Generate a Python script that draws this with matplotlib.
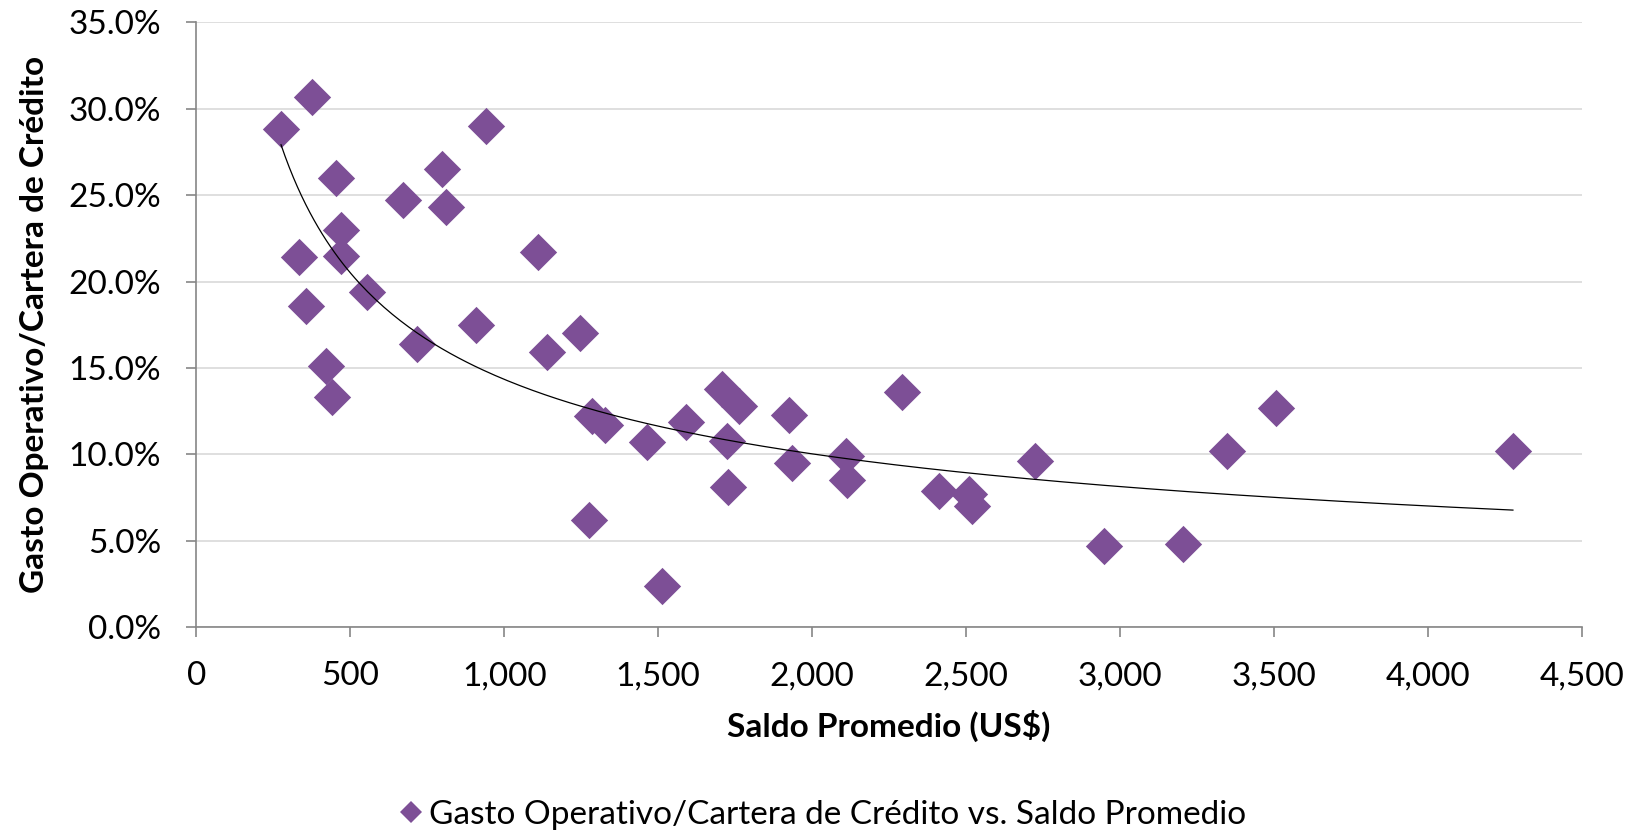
import numpy as np
import matplotlib
matplotlib.use("Agg")
import matplotlib.pyplot as plt
from matplotlib.ticker import FuncFormatter, MultipleLocator
from matplotlib.lines import Line2D

plt.rcParams['font.family'] = ['Lato', 'DejaVu Sans']

# Saldo promedio (US$) y gasto operativo / cartera (%)
saldo = [275, 374, 334, 357, 421, 439, 452, 470, 470, 554,
         671, 716, 797, 812, 908, 940, 1110, 1140, 1247, 1284,
         1277, 1328, 1464, 1512, 1590, 1709, 1764, 1723, 1726, 1924,
         1934, 2109, 2114, 2291, 2413, 2509, 2519, 2723, 2950, 3205,
         3348, 3507, 4277]
gasto = [28.8, 30.7, 21.4, 18.6, 15.1, 13.3, 26.0, 23.0, 21.5, 19.4,
         24.7, 16.4, 26.5, 24.3, 17.5, 29.0, 21.7, 15.9, 17.0, 12.2,
         6.2, 11.7, 10.7, 2.4, 11.9, 13.8, 12.8, 10.8, 8.1, 12.3,
         9.5, 9.9, 8.5, 13.6, 7.9, 7.7, 7.0, 9.6, 4.7, 4.8,
         10.2, 12.7, 10.2]

serie = "Gasto Operativo/Cartera de Crédito vs. Saldo Promedio"
purple = "#7D4F96"

x = np.array(saldo, dtype=float)
y = np.array(gasto, dtype=float) / 100

# power trendline (least squares in log space, like Excel)
b, ln_a = np.polyfit(np.log(x), np.log(y), 1)
xt = np.linspace(x.min(), x.max(), 300)
yt = np.exp(ln_a) * xt ** b

fig = plt.figure(figsize=(16.42, 8.33), dpi=100)
ax = fig.add_axes([0.1196, 0.2469, 0.8436, 0.7264])

ax.plot(xt, yt, color="black", lw=0.9, zorder=3)
ax.scatter(x, y, marker="D", s=19 ** 2, color=purple, linewidths=0, zorder=2)

ax.set_xlim(0, 4500)
ax.set_ylim(0, 0.35)
ax.xaxis.set_major_locator(MultipleLocator(500))
ax.yaxis.set_major_locator(MultipleLocator(0.05))
ax.xaxis.set_major_formatter(FuncFormatter(lambda v, p: f"{v:,.0f}"))
ax.yaxis.set_major_formatter(FuncFormatter(lambda v, p: f"{v * 100:.1f}%"))

ax.grid(axis="y", color="#D9D9D9", lw=1.2)
ax.set_axisbelow(True)
for s in ("top", "right"):
    ax.spines[s].set_visible(False)
for s in ("left", "bottom"):
    ax.spines[s].set_color("#868686")
    ax.spines[s].set_linewidth(1.2)
ax.tick_params(axis="both", direction="out", length=7.5, width=1.2,
               color="#868686", labelsize=24, labelcolor="black")
ax.tick_params(axis="x", pad=17)
ax.tick_params(axis="y", pad=18)

ax.set_xlabel("Saldo Promedio (US$)", fontsize=24, fontweight="bold", labelpad=13)
ax.set_ylabel("Gasto Operativo/Cartera de Crédito", fontsize=24, fontweight="bold", labelpad=14)

handle = Line2D([], [], marker="D", color=purple, ls="none", markersize=11.5, markeredgewidth=0)
fig.legend([handle], [serie], loc="center", bbox_to_anchor=(0.5, 0.022),
           frameon=False, fontsize=24, handletextpad=0.1, handlelength=0.9)

fig.savefig("out.png", dpi=100)
